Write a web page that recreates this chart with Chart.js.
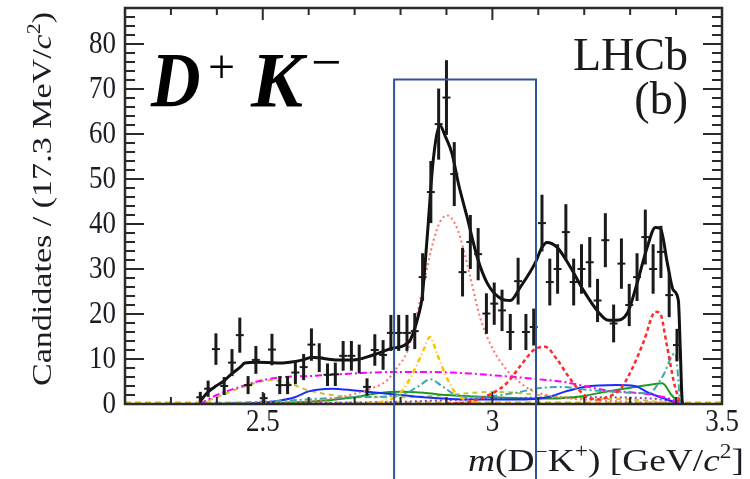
<!DOCTYPE html>
<html>
<head>
<meta charset="utf-8">
<script src="https://cdn.jsdelivr.net/npm/chart.js@4.4.1/dist/chart.umd.min.js"></script>
<style>
  html, body { margin: 0; padding: 0; background: #fff; }
  #wrap { width: 750px; height: 479px; }
</style>
</head>
<body>
<div id="wrap"><canvas id="massChart" width="750" height="479"></canvas></div>
<script>
// m(D-K+) spectrum, candidates per 17.3 MeV/c^2 bin
const binWidth = 0.0173;
const binCentres = [2.364, 2.381, 2.398, 2.416, 2.433, 2.450, 2.468, 2.485, 2.502, 2.520,
    2.537, 2.554, 2.571, 2.589, 2.606, 2.623, 2.641, 2.658, 2.675, 2.693,
    2.710, 2.727, 2.744, 2.762, 2.779, 2.796, 2.814, 2.831, 2.848, 2.866,
    2.883, 2.900, 2.917, 2.935, 2.952, 2.969, 2.987, 3.004, 3.021, 3.039,
    3.056, 3.073, 3.090, 3.108, 3.125, 3.142, 3.160, 3.177, 3.194, 3.212,
    3.229, 3.246, 3.264, 3.281, 3.298, 3.315, 3.333, 3.350, 3.367, 3.385, 3.402];
const candidates = [1.5, 3.4, 12.2, 4.0, 9.2, 15.3, 4.2, 9.8, 1.3, 12.1,
    4.2, 4.2, 7.0, 8.2, 13.2, 10.3, 6.5, 6.6, 10.7, 10.7,
    10.0, 3.8, 12.0, 10.9, 15.8, 15.8, 15.8, 16.2, 28.2, 47.1,
    62.2, 68.1, 51.1, 29.3, 36.0, 33.3, 20.1, 22.3, 20.8, 16.0,
    27.3, 16.0, 17.1, 40.2, 27.1, 30.0, 38.2, 27.1, 30.0, 31.5,
    23.0, 36.4, 17.9, 31.2, 22.0, 28.2, 37.1, 30.0, 33.8, 24.2, 13.1];
const candErrors = [1.2, 1.8, 3.5, 2.0, 3.0, 3.9, 2.0, 3.1, 1.1, 3.5,
    2.0, 2.0, 2.6, 2.9, 3.6, 3.2, 2.5, 2.6, 3.3, 3.3,
    3.2, 1.9, 3.5, 3.3, 4.0, 4.0, 4.0, 4.0, 5.3, 6.9,
    7.9, 8.3, 7.1, 5.4, 6.0, 5.8, 4.5, 4.7, 4.6, 4.0,
    5.2, 4.0, 4.1, 6.3, 5.2, 5.5, 6.2, 5.2, 5.5, 5.6,
    4.8, 6.0, 4.2, 5.6, 4.7, 5.3, 6.1, 5.5, 5.8, 4.9, 3.6];

// total fit
const fitMass = [2.363, 2.379, 2.398, 2.414, 2.431, 2.451, 2.461, 2.488, 2.531, 2.559,
    2.588, 2.607, 2.625, 2.658, 2.697, 2.740, 2.782, 2.803, 2.821, 2.830,
    2.838, 2.847, 2.858, 2.871, 2.886, 2.897, 2.912, 2.926, 2.945, 2.967,
    2.989, 3.017, 3.039, 3.061, 3.093, 3.108, 3.119, 3.141, 3.170, 3.198,
    3.231, 3.252, 3.268, 3.294, 3.315, 3.337, 3.355, 3.366, 3.381, 3.394,
    3.405, 3.409, 3.413, 3.415];
const fitValue = [0.5, 2.5, 4.0, 5.0, 6.6, 8.2, 9.1, 9.3, 9.1, 9.3,
    9.8, 10.4, 10.2, 9.8, 9.8, 10.9, 12.4, 12.8, 14.2, 16.5,
    19.3, 23.7, 37.0, 54.0, 61.9, 59.6, 55.7, 49.0, 41.5, 32.6,
    26.8, 23.5, 23.0, 26.0, 31.3, 34.8, 35.9, 34.8, 30.4, 25.3,
    20.4, 18.6, 18.6, 20.2, 26.8, 34.8, 39.2, 39.0, 31.3, 25.3,
    23.0, 12.6, 1.0, 0];

// fit components
const x2900Mass = [2.363, 2.581, 2.668, 2.745, 2.771, 2.793, 2.814, 2.827, 2.849, 2.871, 2.886, 2.902, 2.919, 2.930, 2.952, 2.973, 3.002, 3.032, 3.054, 3.082, 3.148, 3.235, 3.409];
const x2900Value = [0, 0.5, 1.5, 3.8, 5.3, 8.2, 11.5, 16.0, 26.0, 36.0, 40.5, 41.9, 40.0, 37.0, 28.2, 19.3, 12.0, 7.5, 5.3, 3.2, 1.5, 0.8, 0];
const reflMass = [2.900, 2.950, 3.000, 3.030, 3.065, 3.090, 3.115, 3.140, 3.170, 3.200, 3.230, 3.250, 3.280, 3.305, 3.330, 3.355, 3.365, 3.380, 3.395, 3.409];
const reflValue = [0, 0.5, 2.4, 4.5, 9.0, 12.0, 12.7, 10.0, 5.5, 2.0, 1.0, 1.5, 3.5, 8.0, 14.0, 20.5, 20.2, 13.0, 5.0, 0];
const orangeMass = [2.700, 2.760, 2.800, 2.830, 2.850, 2.864, 2.880, 2.900, 2.920, 2.940, 2.980];
const orangeValue = [0, 0.5, 2.5, 7.5, 12.0, 14.9, 11.0, 6.0, 2.4, 1.0, 0.3];
const oliveMass = [2.363, 2.400, 2.450, 2.520, 2.560, 2.600, 2.650, 2.700, 2.800, 2.900, 3.000, 3.050, 3.100, 3.200, 3.300, 3.409];
const oliveValue = [0, 1.5, 3.5, 5.3, 4.5, 3.0, 2.0, 1.5, 1.5, 2.0, 2.7, 2.5, 2.0, 1.2, 1.0, 0];
const tealMass = [2.363, 2.500, 2.700, 2.800, 2.840, 2.865, 2.890, 2.920, 2.960, 3.050, 3.100, 3.150, 3.200, 3.300, 3.340, 3.370, 3.398, 3.409];
const tealValue = [0, 0.5, 1.5, 2.0, 4.0, 5.5, 4.0, 2.0, 1.5, 2.5, 3.5, 3.8, 3.2, 2.5, 2.4, 6.0, 11.3, 0];
const magentaMass = [2.363, 2.400, 2.450, 2.500, 2.550, 2.600, 2.700, 2.780, 2.860, 2.950, 3.000, 3.050, 3.100, 3.150, 3.200, 3.250, 3.300, 3.350, 3.390, 3.409];
const magentaValue = [0, 2.0, 3.8, 5.3, 6.0, 6.2, 6.8, 7.1, 7.1, 6.8, 6.4, 6.0, 5.5, 5.0, 4.0, 3.0, 2.6, 2.0, 1.0, 0];
const blueMass = [2.450, 2.520, 2.570, 2.600, 2.650, 2.700, 2.750, 2.800, 2.850, 2.950, 3.050, 3.120, 3.160, 3.200, 3.270, 3.310, 3.340, 3.380, 3.409];
const blueValue = [0, 0.5, 1.5, 2.8, 3.4, 3.0, 2.5, 2.0, 1.5, 1.0, 1.0, 1.5, 2.8, 3.8, 4.2, 4.0, 2.5, 1.0, 0];
const greenMass = [2.363, 2.600, 2.700, 2.750, 2.800, 2.850, 2.900, 3.000, 3.100, 3.150, 3.200, 3.250, 3.300, 3.350, 3.370, 3.390, 3.409];
const greenValue = [0, 0.5, 1.5, 2.4, 2.7, 2.5, 2.0, 1.5, 1.2, 1.3, 1.8, 2.8, 3.6, 4.4, 4.6, 2.0, 0];
const purpleMass = [2.363, 2.800, 3.000, 3.200, 3.350, 3.409];
const purpleValue = [0, 0.5, 1.2, 1.5, 1.2, 0];
const floorMass = [2.2, 3.5];
const floorValue = [0.2, 0.2];

// selected window
const boxMass = [2.786, 3.095];
const boxTop = 72.1;

const xTickLabels = ["2.5", "3", "3.5"];
const yTickLabels = ["0", "10", "20", "30", "40", "50", "60", "70", "80"];

const SERIF = '"Liberation Serif", "Times New Roman", Times, serif';

function curve(xs, ys, color, dash, width) {
    return {
        data: xs.map((x, i) => ({ x: x, y: ys[i] })),
        showLine: true,
        borderColor: color,
        borderDash: dash,
        borderWidth: width,
        pointRadius: 0,
        fill: false,
        cubicInterpolationMode: "monotone"
    };
}

// draws text, stretched to a given width
function fittedText(ctx, pieces, x, y, width) {
    let natural = 0;
    pieces.forEach(p => { ctx.font = p.font; natural += ctx.measureText(p.text).width; });
    ctx.save();
    ctx.translate(x, y);
    ctx.scale(width / natural, 1);
    let cx = 0;
    pieces.forEach(p => {
        ctx.font = p.font;
        ctx.fillText(p.text, cx, p.dy || 0);
        cx += ctx.measureText(p.text).width;
    });
    ctx.restore();
}

const decorations = {
    id: "decorations",
    afterDatasetsDraw(chart) {
        const ctx = chart.ctx;
        const xs = chart.scales.x, ys = chart.scales.y;
        const area = chart.chartArea;
        ctx.save();
        ctx.beginPath();
        ctx.rect(area.left, area.top, area.right - area.left, area.bottom - area.top);
        ctx.clip();
        ctx.strokeStyle = "#1a1a1a";
        // data points with error bars
        binCentres.forEach((m, i) => {
            const px = xs.getPixelForValue(m);
            const hw = xs.getPixelForValue(m + binWidth / 2) - px;
            const py = ys.getPixelForValue(candidates[i]);
            ctx.lineWidth = 3;
            ctx.beginPath();
            ctx.moveTo(px, ys.getPixelForValue(Math.max(0, candidates[i] - candErrors[i])));
            ctx.lineTo(px, ys.getPixelForValue(candidates[i] + candErrors[i]));
            ctx.stroke();
            ctx.lineWidth = 2;
            ctx.beginPath();
            ctx.moveTo(px - hw, py);
            ctx.lineTo(px + hw, py);
            ctx.stroke();
        });
        ctx.restore();
    },
    afterDraw(chart) {
        const ctx = chart.ctx;
        const xs = chart.scales.x, ys = chart.scales.y;
        const a = chart.chartArea;
        ctx.save();

        // frame and inward ticks
        ctx.strokeStyle = "#2a2a2a";
        ctx.lineWidth = 2.5;
        ctx.strokeRect(a.left, a.top, a.right - a.left, a.bottom - a.top);
        ctx.lineWidth = 2;
        ctx.beginPath();
        for (let v = 0; v <= 88; v += 2) {
            const py = ys.getPixelForValue(v);
            const len = v % 10 === 0 ? 19 : 10;
            ctx.moveTo(a.left, py); ctx.lineTo(a.left + len, py);
            ctx.moveTo(a.right, py); ctx.lineTo(a.right - len, py);
        }
        for (let k = 22; k <= 35; k++) {
            const px = xs.getPixelForValue(k / 10);
            const len = k % 5 === 0 ? 12 : 7;
            ctx.moveTo(px, a.bottom); ctx.lineTo(px, a.bottom - len);
            ctx.moveTo(px, a.top); ctx.lineTo(px, a.top + len);
        }
        ctx.stroke();

        // tick labels
        ctx.fillStyle = "#1c1c24";
        ctx.font = "27px " + SERIF;
        ctx.textAlign = "right";
        ctx.textBaseline = "middle";
        yTickLabels.forEach(t => {
            const py = ys.getPixelForValue(parseFloat(t));
            ctx.save();
            ctx.translate(116, py);
            ctx.scale(1, 1.15);
            ctx.fillText(t, 0, 1);
            ctx.restore();
        });
        ctx.textAlign = "center";
        ctx.textBaseline = "alphabetic";
        xTickLabels.forEach(t => {
            const px = xs.getPixelForValue(parseFloat(t));
            ctx.save();
            ctx.translate(px, 431);
            ctx.scale(1, 1.15);
            ctx.fillText(t, 0, 0);
            ctx.restore();
        });

        // axis titles
        ctx.textAlign = "left";
        const rm = "28px " + SERIF, it = "italic 28px " + SERIF, sup = "18px " + SERIF;
        ctx.save();
        ctx.translate(51, 386);
        ctx.rotate(-Math.PI / 2);
        fittedText(ctx, [
            { text: "Candidates / (17.3 MeV/", font: rm },
            { text: "c", font: it },
            { text: "2", font: sup, dy: -11 },
            { text: ")", font: rm }
        ], 0, 0, 374);
        ctx.restore();
        const rmx = "32px " + SERIF, itx = "italic 32px " + SERIF, supx = "20px " + SERIF;
        fittedText(ctx, [
            { text: "m", font: itx },
            { text: "(D", font: rmx },
            { text: "\u2212", font: supx, dy: -13 },
            { text: "K", font: rmx },
            { text: "+", font: supx, dy: -13 },
            { text: ") [GeV/", font: rmx },
            { text: "c", font: itx },
            { text: "2", font: supx, dy: -13 },
            { text: "]", font: rmx }
        ], 468, 471, 276);

        // experiment label
        ctx.textAlign = "right";
        ctx.fillStyle = "#1a1a1a";
        ctx.font = "46px " + SERIF;
        ctx.fillText("LHCb", 688, 70);
        ctx.fillText("(b)", 688, 114);

        // decay channel label
        ctx.textAlign = "left";
        ctx.fillStyle = "#000";
        ctx.font = "italic bold 78px " + SERIF;
        ctx.save();
        ctx.translate(151, 106);
        ctx.scale(0.88, 1);
        ctx.fillText("D", 0, 0);
        ctx.restore();
        ctx.fillText("K", 251, 106);
        ctx.font = "48px " + SERIF;
        ctx.fillText("+", 208, 83);
        ctx.font = "54px " + SERIF;
        ctx.fillText("\u2212", 311, 80);

        // selected mass window
        ctx.strokeStyle = "#2f5597";
        ctx.lineWidth = 2;
        const bx0 = xs.getPixelForValue(boxMass[0]);
        const bx1 = xs.getPixelForValue(boxMass[1]);
        const by = ys.getPixelForValue(boxTop);
        ctx.beginPath();
        ctx.moveTo(bx0, chart.height + 2);
        ctx.lineTo(bx0, by);
        ctx.lineTo(bx1, by);
        ctx.lineTo(bx1, chart.height + 2);
        ctx.stroke();
        ctx.restore();
    }
};

function buildChart() {
    return new Chart(document.getElementById("massChart").getContext("2d"), {
        type: "scatter",
        data: {
            datasets: [
                curve(fitMass, fitValue, "#111111", [], 3),
                curve(reflMass, reflValue, "#ff2a2a", [4, 3], 2.5),
                curve(x2900Mass, x2900Value, "#ff7070", [2, 3], 2),
                curve(orangeMass, orangeValue, "#ffc000", [5, 3, 1, 3], 2.5),
                curve(tealMass, tealValue, "#3aa8a8", [7, 3, 2, 3], 2),
                curve(magentaMass, magentaValue, "#ff00ff", [7, 3, 2, 3], 2),
                curve(blueMass, blueValue, "#1a2cff", [], 2),
                curve(greenMass, greenValue, "#1f9a1f", [], 2),
                curve(oliveMass, oliveValue, "#c4c43c", [5, 4], 2),
                curve(purpleMass, purpleValue, "#8a3cc8", [2, 3], 2),
                curve(floorMass, floorValue, "#e0b800", [6, 4], 3)
            ]
        },
        options: {
            responsive: false,
            animation: false,
            devicePixelRatio: 1,
            events: [],
            layout: { padding: { left: 125, right: 28, top: 8, bottom: 75 } },
            scales: {
                x: { type: "linear", min: 2.2, max: 3.5, display: false },
                y: { type: "linear", min: 0, max: 88, display: false }
            },
            plugins: {
                legend: { display: false },
                tooltip: { enabled: false }
            }
        },
        plugins: [decorations]
    });
}

// make sure the serif faces are ready before the canvas text is drawn
Promise.all([
    document.fonts.load("27px " + SERIF),
    document.fonts.load("italic 27px " + SERIF),
    document.fonts.load("italic bold 78px " + SERIF)
]).then(buildChart, buildChart);
</script>
</body>
</html>
